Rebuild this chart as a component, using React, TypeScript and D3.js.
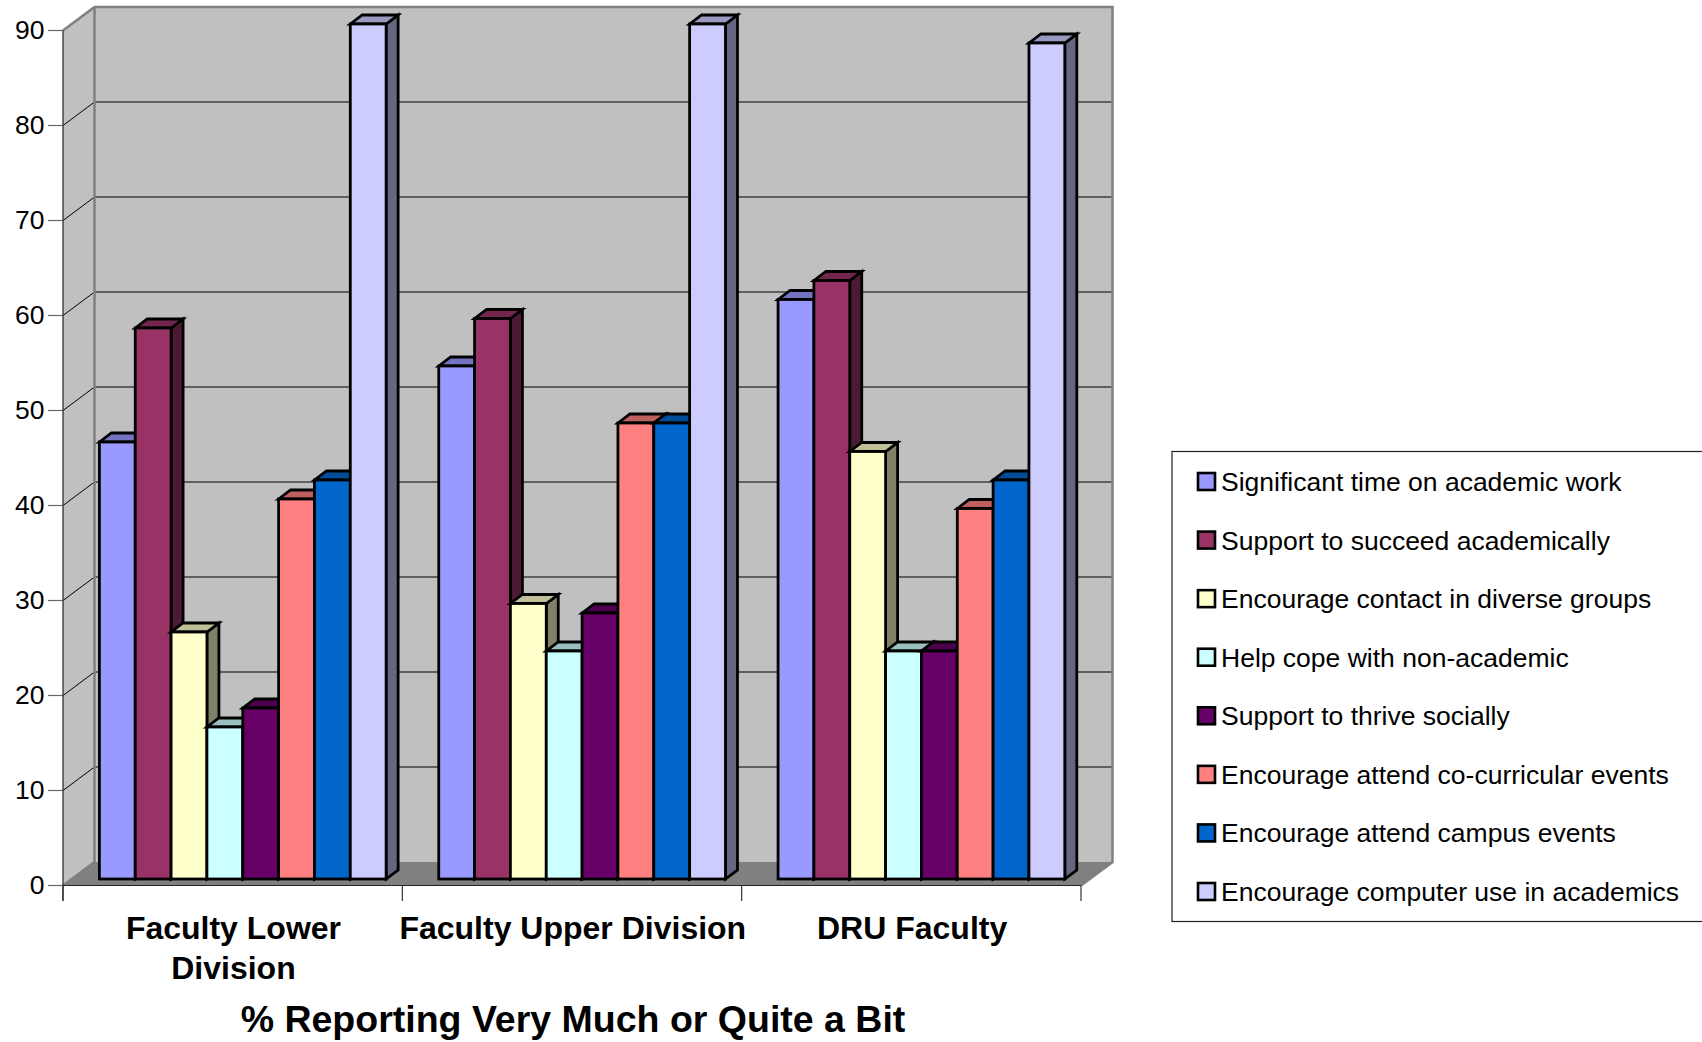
import React from "react";
import * as d3 from "d3";

const categories = ["Faculty Lower Division", "Faculty Upper Division", "DRU Faculty"];
const categoryLines = [["Faculty Lower", "Division"], ["Faculty Upper Division"], ["DRU Faculty"]];
const seriesNames = [
  "Significant time on academic work",
  "Support to succeed academically",
  "Encourage contact in diverse groups",
  "Help cope with non-academic",
  "Support to thrive socially",
  "Encourage attend co-curricular events",
  "Encourage attend campus events",
  "Encourage computer use in academics",
];
const seriesColors = ["#9999ff", "#993366", "#ffffcc", "#ccffff", "#660066", "#ff8080", "#0066cc", "#ccccff"];
const lowerDivision = [46, 58, 26, 16, 18, 40, 42, 90];
const upperDivision = [54, 59, 29, 24, 28, 48, 48, 90];
const druFaculty = [61, 63, 45, 24, 24, 39, 42, 88];
const groupValues = [lowerDivision, upperDivision, druFaculty];
const yTicks = [0, 10, 20, 30, 40, 50, 60, 70, 80, 90];
const axisTitle = "% Reporting Very Much or Quite a Bit";

const FONT = "'Liberation Sans', Arial, sans-serif";
const left = 63, right = 1081, wallDx = 31.5, wallDy = 23.5;
const barDx = 12, barDy = 9, planeDx = 10.1, planeDy = 6.5;

const y = d3.scaleLinear().domain([0, 90]).range([885.5, 30.5]);
const xGroup = d3.scaleBand<number>().domain(d3.range(categories.length)).range([left, right]);
const xBar = d3.scaleBand<number>().domain(d3.range(seriesNames.length)).range([26.3, xGroup.bandwidth() - 26.3]);
const poly = (pts: [number, number][]) => (d3.line()(pts) as string) + "Z";
const shade = (c: string, k: number) => {
  const r = d3.rgb(c);
  return d3.rgb(r.r * k, r.g * k, r.b * k).formatHex();
};

export default function App() {
  const y0 = y(0);
  const wallTop = y(90) - wallDy;
  const wallBottom = y0 - wallDy;
  const legendY = d3.scaleLinear().domain([0, 7]).range([481.5, 891.5]);
  return (
    <svg width={1702} height={1042} style={{ position: "absolute", left: 0, top: 0, display: "block", background: "#fff" }} fontFamily={FONT}>
      {/* walls */}
      <path d={poly([[left, y(90)], [left + wallDx, wallTop], [left + wallDx, wallBottom], [left, y0]])} fill="#c0c0c0" />
      <rect x={left + wallDx} y={wallTop} width={right - left} height={wallBottom - wallTop} fill="#c0c0c0" />
      <path d={poly([[left, y0], [left + wallDx, wallBottom], [right + wallDx, wallBottom], [right, y0]])} fill="#808080" />
      {yTicks.filter((t) => t > 0 && t < 90).map((t) => (
        <path key={t} d={`M${left},${y(t)}L${left + wallDx},${y(t) - wallDy}L${right + wallDx},${y(t) - wallDy}`} fill="none" stroke="#000" strokeWidth={1} />
      ))}
      <path d={`M${left},${y(90)}L${left + wallDx},${wallTop}L${right + wallDx},${wallTop}L${right + wallDx},${wallBottom}L${right},${y0}`} fill="none" stroke="#808080" strokeWidth={2.5} />
      <path d={`M${left + wallDx},${wallTop}V${wallBottom}L${left},${y0}`} fill="none" stroke="#808080" strokeWidth={2.5} />

      {/* axes */}
      <line x1={left} x2={left} y1={y(90)} y2={901} stroke="#222" strokeWidth={1.2} />
      <line x1={left} x2={right} y1={y0} y2={y0} stroke="#222" strokeWidth={1.2} />
      {yTicks.map((t) => (
        <g key={t}>
          <line x1={48} x2={left} y1={y(t)} y2={y(t)} stroke="#666" strokeWidth={1.2} />
          <text x={44.5} y={y(t) + 8.5} textAnchor="end" fontSize={26.5}>{t}</text>
        </g>
      ))}
      {[...xGroup.domain().map((i) => xGroup(i) as number), right].map((x) => (
        <line key={x} x1={x} x2={x} y1={y0} y2={901} stroke="#333" strokeWidth={1.2} />
      ))}

      {/* bars */}
      {groupValues.map((vals, g) => (
        <g key={categories[g]}>
          {vals.map((v, i) => {
            const x0 = (xGroup(g) as number) + (xBar(i) as number) + planeDx;
            const x1 = x0 + xBar.bandwidth();
            const top = y(v) - planeDy;
            const bot = y(0) - planeDy;
            const c = seriesColors[i];
            return (
              <g key={i} stroke="#000" strokeWidth={2.8} strokeLinejoin="miter">
                <path d={poly([[x1, top], [x1 + barDx, top - barDy], [x1 + barDx, bot - barDy], [x1, bot]])} fill={shade(c, 0.5)} />
                <path d={poly([[x0, top], [x0 + barDx, top - barDy], [x1 + barDx, top - barDy], [x1, top]])} fill={shade(c, 0.75)} />
                <rect x={x0} y={top} width={x1 - x0} height={bot - top} fill={c} />
              </g>
            );
          })}
        </g>
      ))}

      {/* category labels */}
      {categoryLines.map((lines, g) => (
        <text key={g} textAnchor="middle" fontSize={32} fontWeight="bold">
          {lines.map((l, j) => (
            <tspan key={l} x={(xGroup(g) as number) + xGroup.bandwidth() / 2 + 0.8} y={939 + j * 40}>{l}</tspan>
          ))}
        </text>
      ))}
      <text x={573} y={1032} textAnchor="middle" fontSize={37.5} fontWeight="bold">{axisTitle}</text>

      {/* legend */}
      <rect x={1172} y={451.5} width={560} height={470} fill="#fff" stroke="#222" strokeWidth={1.2} />
      {seriesNames.map((s, i) => (
        <g key={s}>
          <rect x={1198} y={legendY(i) - 8.5} width={17} height={17} fill={seriesColors[i]} stroke="#000" strokeWidth={2.6} />
          <text x={1221} y={legendY(i) + 9.5} fontSize={26.5}>{s}</text>
        </g>
      ))}
    </svg>
  );
}
